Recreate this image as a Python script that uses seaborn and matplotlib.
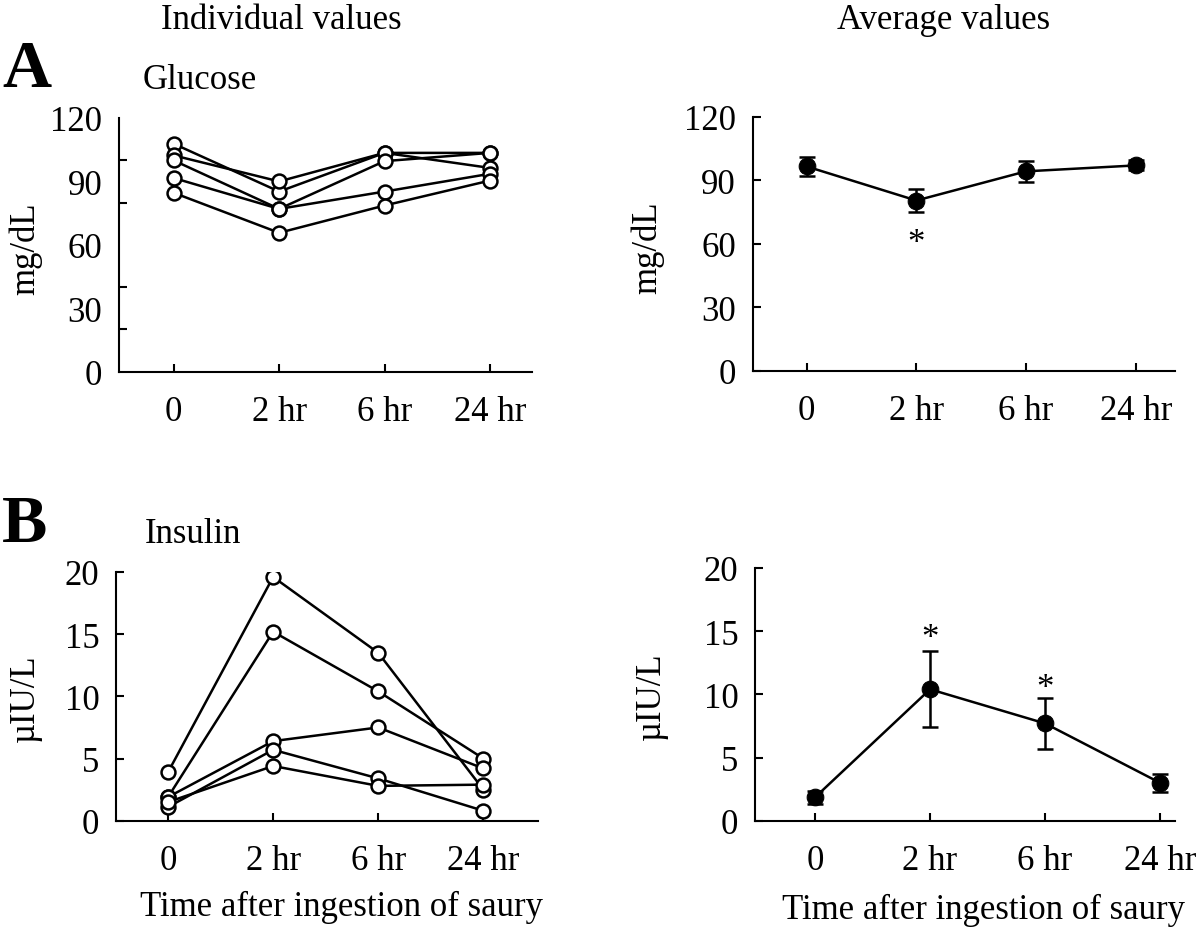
import numpy as np
import pandas as pd
import matplotlib
matplotlib.use("Agg")
import matplotlib.pyplot as plt
import seaborn as sns

# ---------------- data ----------------
times = ["0", "2 hr", "6 hr", "24 hr"]
subjects = ["S1", "S2", "S3", "S4", "S5"]

glucose_s1 = [107.8, 85.2, 103.5, 96.4]
glucose_s2 = [102.3, 90.0, 103.5, 103.5]
glucose_s3 = [99.9, 77.0, 99.6, 103.5]
glucose_s4 = [91.6, 77.0, 85.2, 93.6]
glucose_s5 = [84.6, 65.7, 78.6, 90.4]

insulin_s1 = [3.9, 19.6, 13.5, 2.5]
insulin_s2 = [1.9, 15.2, 10.4, 5.0]
insulin_s3 = [1.9, 6.4, 7.5, 4.2]
insulin_s4 = [1.1, 5.7, 3.4, 0.8]
insulin_s5 = [1.5, 4.4, 2.8, 2.9]

glucose_mean = [96.6, 80.5, 94.3, 97.1]
glucose_err = [4.4, 5.5, 4.9, 2.4]
insulin_mean = [1.85, 10.4, 7.7, 3.0]
insulin_err = [0.5, 3.0, 2.05, 0.7]

glucose_star_times = ["2 hr"]
glucose_star_y = [60]
insulin_star_times = ["2 hr", "6 hr"]
insulin_star_y = [14.4, 10.5]

glucose_label_ticks = [0, 30, 60, 90, 120]
glucose_minor_ticks = [0, 20, 40, 60, 80, 100, 120]
insulin_ticks = [0, 5, 10, 15, 20]

# ---------------- style ----------------
sns.set_theme(style="white")
plt.rcParams["font.family"] = ["Liberation Serif", "DejaVu Serif"]
plt.rcParams["text.color"] = "black"
plt.rcParams["axes.labelcolor"] = "black"
plt.rcParams["xtick.color"] = "black"
plt.rcParams["ytick.color"] = "black"
FS = 25
LW = 1.8

pos = np.arange(len(times))

def long_df(series_list):
    rows = []
    for s, vals in zip(subjects, series_list):
        for p, v in zip(pos, vals):
            rows.append({"subject": s, "pos": p, "value": v})
    return pd.DataFrame(rows)

glu_df = long_df([glucose_s1, glucose_s2, glucose_s3, glucose_s4, glucose_s5])
ins_df = long_df([insulin_s1, insulin_s2, insulin_s3, insulin_s4, insulin_s5])

W, H = 1200, 929
fig = plt.figure(figsize=(W / 100, H / 100), dpi=100)

def add_ax(left, right, top, bottom):
    return fig.add_axes([left / W, 1 - bottom / H, (right - left) / W, (bottom - top) / H])

axAL = add_ax(119, 532, 119, 372.7)
axAR = add_ax(752.7, 1175, 118, 371.7)
axBL = add_ax(116, 538, 573, 821.7)
axBR = add_ax(755, 1175, 569, 821.7)

def style_ax(ax, xlim):
    ax.set_xlim(*xlim)
    for sp in ["top", "right"]:
        ax.spines[sp].set_visible(False)
    for sp in ["left", "bottom"]:
        ax.spines[sp].set_linewidth(1.5)
        ax.spines[sp].set_color("black")
    ax.set_xticks(pos)
    ax.set_xticklabels(times)
    ax.tick_params(which="both", direction="in", length=6, width=1.5, labelsize=FS,
                   colors="black", bottom=True, left=True, top=False, right=False)
    ax.tick_params(axis="x", pad=17)
    ax.tick_params(axis="y", pad=12)
    ax.set_facecolor("white")

def individual(ax, df):
    sns.lineplot(data=df, x="pos", y="value", units="subject", estimator=None,
                 color="black", linewidth=LW, marker="o", markersize=10,
                 markerfacecolor="white", markeredgecolor="black",
                 markeredgewidth=1.8, legend=False, ax=ax)

def average(ax, mean, err):
    ax.errorbar(pos, mean, yerr=err, fmt="none", ecolor="black", elinewidth=LW,
                capsize=6, capthick=LW, zorder=2)
    sns.lineplot(x=pos, y=mean, color="black", linewidth=LW, marker="o",
                 markersize=12, markerfacecolor="black", markeredgecolor="black",
                 legend=False, ax=ax, zorder=3)

# A left
individual(axAL, glu_df)
style_ax(axAL, (-0.52, 3.40))
axAL.set_ylim(0, 120)
axAL.set_yticks(glucose_label_ticks)
axAL.set_yticks(glucose_minor_ticks, minor=True)
axAL.tick_params(axis="y", which="major", length=0)
axAL.tick_params(axis="y", which="minor", direction="in", length=6, width=1.5, left=True)
axAL.tick_params(axis="x", which="minor", bottom=False)

# A right
average(axAR, glucose_mean, glucose_err)
style_ax(axAR, (-0.492, 3.358))
axAR.set_ylim(0, 120)
axAR.set_yticks(glucose_label_ticks)
for t, y in zip(glucose_star_times, glucose_star_y):
    axAR.text(times.index(t), y, "*", ha="center", va="center", fontsize=FS)

# B left
individual(axBL, ins_df)
style_ax(axBL, (-0.495, 3.52))
axBL.set_ylim(0, 20)
axBL.set_yticks(insulin_ticks)

# B right
average(axBR, insulin_mean, insulin_err)
style_ax(axBR, (-0.522, 3.13))
axBR.set_ylim(0, 20)
axBR.set_yticks(insulin_ticks)
for t, y in zip(insulin_star_times, insulin_star_y):
    axBR.text(times.index(t), y, "*", ha="center", va="center", fontsize=FS)

for ax in (axAR, axBL, axBR):
    ax.minorticks_off()

# axis labels
for ax in (axAL, axAR, axBL, axBR):
    ax.set_xlabel("")
    ax.set_ylabel("")
axAL.set_ylabel("mg/dL", fontsize=FS)
axAL.yaxis.set_label_coords(-0.186, 0.49)
axAR.set_ylabel("mg/dL", fontsize=FS)
axAR.yaxis.set_label_coords(-0.21, 0.49)
axBL.set_ylabel("µIU/L", fontsize=FS)
axBL.yaxis.set_label_coords(-0.175, 0.497)
axBR.set_ylabel("µIU/L", fontsize=FS)
axBR.yaxis.set_label_coords(-0.207, 0.497)
axBL.set_xlabel("Time after ingestion of saury", fontsize=FS)
axBL.xaxis.set_label_coords(0.535, -0.28)
axBR.set_xlabel("Time after ingestion of saury", fontsize=FS)
axBR.xaxis.set_label_coords(0.545, -0.285)

# figure texts
def ftext(x, y, s, **kw):
    fig.text(x / W, 1 - y / H, s, va="baseline", **kw)

ftext(281.5, 29, "Individual values", ha="center", fontsize=FS)
ftext(944, 29, "Average values", ha="center", fontsize=FS)
ftext(2, 87, "A", ha="left", fontsize=49, fontweight="bold")
ftext(143, 89, "Glucose", ha="left", fontsize=FS)
ftext(2, 542, "B", ha="left", fontsize=49, fontweight="bold")
ftext(145, 543, "Insulin", ha="left", fontsize=FS)

fig.savefig("out.png", dpi=100, facecolor="white")
